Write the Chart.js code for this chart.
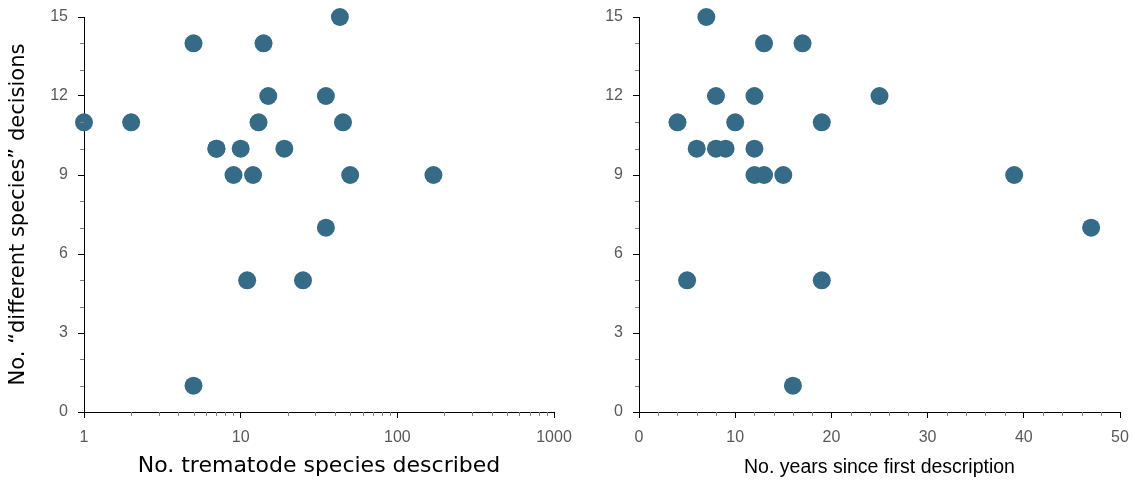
<!DOCTYPE html>
<html>
<head>
<meta charset="utf-8">
<script src="https://cdn.jsdelivr.net/npm/chart.js"></script>
<style>
  body { margin: 0; background: #fff; }
  .panel { position: absolute; top: 0; height: 482px; }
  #leftWrap { left: 0; width: 585px; z-index: 2; }
  #rightWrap { left: 570px; width: 567px; z-index: 1; }
</style>
</head>
<body>
<div class="panel" id="leftWrap"><canvas id="speciesChart"></canvas></div>
<div class="panel" id="rightWrap"><canvas id="yearsChart"></canvas></div>
<script>
// left panel: trematode species described (log) vs decisions
const speciesDescribed = [1, 2, 5, 5, 7, 7, 10, 9, 12, 11, 13, 14, 15, 19, 25, 35, 35, 43, 45, 50, 170];
const speciesDecisions = [11, 11, 14, 1, 10, 10, 10, 9, 9, 5, 11, 14, 12, 10, 5, 12, 7, 15, 11, 9, 9];

// right panel: years since first description vs decisions
const yearsSince = [7, 13, 17, 8, 12, 25, 4, 10, 19, 6, 8, 9, 12, 12, 13, 15, 39, 47, 5, 19, 16];
const yearsDecisions = [15, 14, 14, 12, 12, 12, 11, 11, 11, 10, 10, 10, 10, 9, 9, 9, 9, 7, 5, 5, 1];

const yTicks = [0, 3, 6, 9, 12, 15];
const yMinor = [1, 2, 4, 5, 7, 8, 10, 11, 13, 14];
const logTicks = [1, 10, 100, 1000];
const logMinor = [2, 3, 4, 5, 6, 7, 8, 9, 20, 30, 40, 50, 60, 70, 80, 90, 200, 300, 400, 500, 600, 700, 800, 900];
const yearTicks = [0, 10, 20, 30, 40, 50];
const yearMinor = [2, 4, 6, 8, 12, 14, 16, 18, 22, 24, 26, 28, 32, 34, 36, 38, 42, 44, 46, 48];

const dotColor = "#356b87";
const fam = "'Liberation Sans', Arial, sans-serif";
const wideFam = "'DejaVu Sans', sans-serif";
const tickFont = { family: fam, size: 16 };

// short grey minor ticks, placed through the chart's own scales
const minorTicks = {
  id: "minorTicks",
  afterDraw(chart, args, opts) {
    const c = chart.ctx;
    const xs = chart.scales.x, ys = chart.scales.y;
    c.save();
    c.strokeStyle = "#808080";
    c.lineWidth = 1;
    c.beginPath();
    (opts.x || []).forEach(v => {
      const px = Math.round(xs.getPixelForValue(v)) + 0.5;
      c.moveTo(px, xs.top);
      c.lineTo(px, xs.top + 4);
    });
    (opts.y || []).forEach(v => {
      const py = Math.round(ys.getPixelForValue(v)) + 0.5;
      c.moveTo(ys.right, py);
      c.lineTo(ys.right - 4, py);
    });
    c.stroke();
    c.restore();
  },
};

function pairs(xs, ys) {
  return xs.map((x, i) => ({ x: x, y: ys[i] }));
}

function yScale(title, width) {
  return {
    min: 0,
    max: 15,
    afterBuildTicks: s => { s.ticks = yTicks.map(v => ({ value: v })); },
    afterFit: s => { s.width = width; s.paddingTop = 0; s.paddingBottom = 0; },
    grid: { drawOnChartArea: false, drawTicks: true, tickLength: 6, tickColor: "#000" },
    border: { color: "#000", width: 1 },
    ticks: { color: "#595959", font: tickFont, padding: 10 },
    title: { display: !!title, text: title, color: "#000", font: { family: wideFam, size: 21 }, padding: { top: 6, bottom: 0 } },
  };
}

function xAxis(extra, title, titleFont) {
  return Object.assign({
    afterFit: s => { s.height = 70; s.paddingLeft = 0; s.paddingRight = 0; },
    grid: { drawOnChartArea: false, drawTicks: true, tickLength: 6, tickColor: "#000" },
    border: { color: "#000", width: 1 },
    ticks: { color: "#595959", font: tickFont, padding: 10, maxRotation: 0, autoSkip: false, callback: v => String(v) },
    title: { display: true, text: title, color: "#000", font: titleFont, padding: { top: 4, bottom: 3 } },
  }, extra);
}

function baseOptions(scales, minor, pad) {
  return {
    responsive: true,
    maintainAspectRatio: false,
    animation: false,
    layout: { padding: pad },
    plugins: { legend: { display: false }, tooltip: { enabled: false }, minorTicks: minor },
    scales: scales,
  };
}

const ctx = document.getElementById("speciesChart").getContext("2d");
const speciesChart = new Chart(ctx, {
  type: "scatter",
  data: {
    datasets: [{
      data: pairs(speciesDescribed, speciesDecisions),
      backgroundColor: dotColor,
      borderWidth: 0,
      pointRadius: 9,
      clip: false,
    }],
  },
  options: baseOptions({
    x: xAxis({
      type: "logarithmic",
      min: 1,
      max: 1000,
      afterBuildTicks: s => { s.ticks = logTicks.map(v => ({ value: v })); },
    }, "No. trematode species described", { family: wideFam, size: 22 }),
    y: yScale("No. \u201cdifferent species\u201d decisions", 84),
  }, { x: logMinor, y: yMinor }, { top: 17, right: 31, bottom: 0, left: 0 }),
  plugins: [minorTicks],
});

const ctx1 = document.getElementById("yearsChart").getContext("2d");
const yearsChart = new Chart(ctx1, {
  type: "scatter",
  data: {
    datasets: [{
      data: pairs(yearsSince, yearsDecisions),
      backgroundColor: dotColor,
      borderWidth: 0,
      pointRadius: 9,
      clip: false,
    }],
  },
  options: baseOptions({
    x: xAxis({
      type: "linear",
      min: 0,
      max: 50,
      afterBuildTicks: s => { s.ticks = yearTicks.map(v => ({ value: v })); },
    }, "No. years since first description", { family: fam, size: 19.5 }),
    y: yScale("", 69),
  }, { x: yearMinor, y: yMinor }, { top: 17, right: 17, bottom: 0, left: 0 }),
  plugins: [minorTicks],
});
</script>
</body>
</html>
